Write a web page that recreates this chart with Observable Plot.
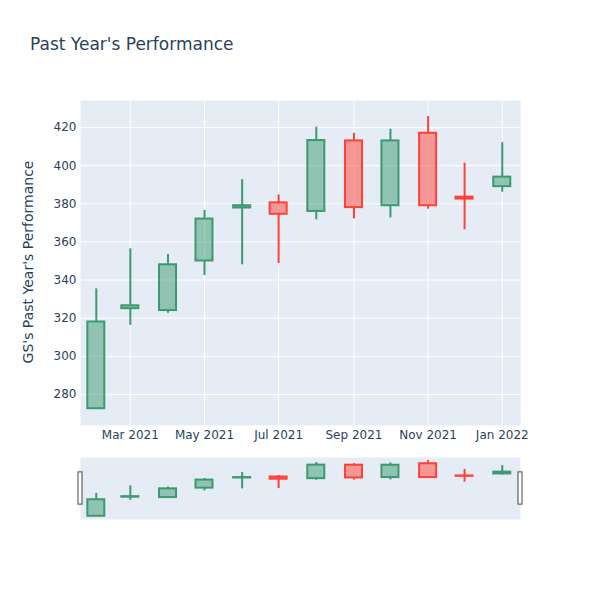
<!DOCTYPE html>
<html><head><meta charset="utf-8">
<script src="https://cdn.jsdelivr.net/npm/d3@7"></script>
<script src="https://cdn.jsdelivr.net/npm/@observablehq/plot@0.6"></script>
<style>
body{margin:0;background:#fff;font-family:"DejaVu Sans",verdana,arial,sans-serif;}
#wrap{position:relative;width:600px;height:600px;overflow:hidden;}
#title{position:absolute;left:30px;top:34px;font-size:17px;line-height:20px;color:#2a3f5f;white-space:nowrap;}
#ylabel{position:absolute;left:28px;top:262px;font-size:14px;line-height:16px;color:#2a3f5f;white-space:nowrap;transform:translate(-50%,-50%) rotate(-90deg);}
#main{position:absolute;left:0;top:0;}
#slider{position:absolute;left:0;top:450px;}
</style></head><body>
<div id="wrap"><div id="main"></div><div id="slider"></div>
<div id="title">Past Year's Performance</div>
<div id="ylabel">GS's Past Year's Performance</div></div>
<script>
const dates = ["2021-02-01","2021-03-01","2021-04-01","2021-05-01","2021-06-01","2021-07-01","2021-08-01","2021-09-01","2021-10-01","2021-11-01","2021-12-01","2022-01-01"];
const open  = [272.5, 325.0, 324.0, 350.0, 377.8, 380.5, 376.0, 413.0, 379.0, 417.0, 383.5, 389.0];
const high  = [335.4, 356.4, 353.4, 376.5, 392.7, 384.7, 420.2, 417.0, 419.1, 425.8, 401.3, 412.1];
const low   = [272.0, 316.2, 322.6, 342.4, 348.0, 348.7, 371.6, 372.1, 372.6, 377.2, 366.4, 386.1];
const close = [318.0, 326.5, 348.0, 372.0, 379.0, 374.5, 413.2, 378.0, 413.0, 379.0, 382.5, 394.0];
const yTicks = [280, 300, 320, 340, 360, 380, 400, 420];
const xTicks = ["2021-03-01","2021-05-01","2021-07-01","2021-09-01","2021-11-01","2022-01-01"];
const xDomainStr = ["2021-01-19","2022-01-16"];
const yDomain = [263.7, 434.2];

const UP = "#3D9970", DOWN = "#FF4136";
const rows = dates.map((d, i) => ({date: new Date(d), open: open[i], high: high[i], low: low[i], close: close[i]}));
const col = d => d.close >= d.open ? UP : DOWN;
const xDomain = xDomainStr.map(d => new Date(d));
const xTickDates = xTicks.map(d => new Date(d));

function candles() {
  return [
    Plot.ruleX(rows, {x: "date", y1: "high", y2: d => Math.max(d.open, d.close), stroke: col, strokeWidth: 2}),
    Plot.ruleX(rows, {x: "date", y1: "low", y2: d => Math.min(d.open, d.close), stroke: col, strokeWidth: 2}),
    Plot.rect(rows, {x1: d => d3.utcDay.offset(d.date, -7), x2: d => d3.utcDay.offset(d.date, 7), y1: "open", y2: "close",
      fill: col, fillOpacity: 0.5, stroke: col, strokeWidth: 2})
  ];
}

const main = Plot.plot({
  width: 600, height: 450,
  marginTop: 100, marginBottom: 25, marginLeft: 80, marginRight: 80,
  style: {fontFamily: '"DejaVu Sans", verdana, arial, sans-serif', fontSize: "12px", color: "#2a3f5f", background: "transparent"},
  x: {type: "utc", domain: xDomain},
  y: {domain: yDomain},
  color: {type: "identity"},
  marks: [
    Plot.frame({fill: "#E5ECF6", stroke: null}),
    Plot.gridX(xTickDates, {stroke: "white", strokeOpacity: 1, strokeWidth: 1}),
    Plot.gridY(yTicks, {stroke: "white", strokeOpacity: 1, strokeWidth: 1}),
    Plot.axisX(xTickDates, {tickSize: 0, tickPadding: 5, tickFormat: d3.utcFormat("%b %Y"), label: null, fill: "#2a3f5f"}),
    Plot.axisY(yTicks, {tickSize: 0, tickPadding: 4, label: null, fill: "#2a3f5f"}),
    ...candles()
  ]
});
document.getElementById("main").appendChild(main);

const span = yDomain[1] - yDomain[0];
const mid = (yDomain[0] + yDomain[1]) / 2;
const slider = Plot.plot({
  width: 600, height: 150,
  marginTop: 7, marginBottom: 81, marginLeft: 80, marginRight: 80,
  style: {background: "transparent"},
  x: {type: "utc", domain: xDomain, axis: null},
  y: {domain: yDomain, axis: null},
  color: {type: "identity"},
  marks: [
    Plot.frame({fill: "#E5ECF6", stroke: null}),
    ...candles(),
    Plot.rect(xDomain, {x1: d => d, x2: d => d, y1: mid - 0.26 * span, y2: mid + 0.26 * span,
      insetLeft: -2, insetRight: -2, fill: "white", stroke: "#444", strokeWidth: 1})
  ]
});
document.getElementById("slider").appendChild(slider);
</script>
</body></html>
